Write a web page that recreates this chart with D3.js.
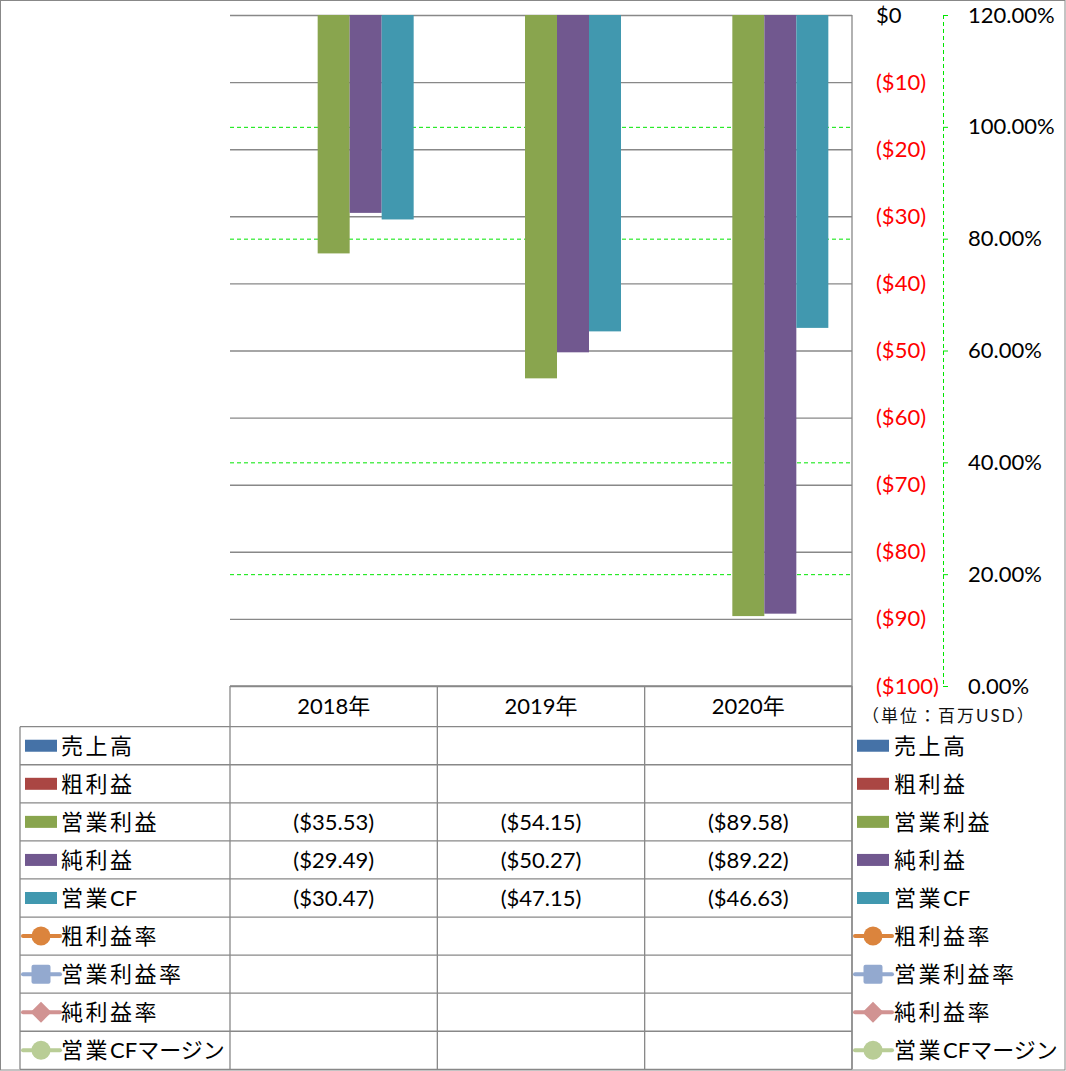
<!DOCTYPE html>
<html><head><meta charset="utf-8">
<script src="https://cdn.jsdelivr.net/npm/d3@7"></script>
<style>
html,body{margin:0;padding:0;background:#fff;}
text{font-family:Lato,"Noto Sans CJK JP",sans-serif;}
</style></head>
<body>
<script>
// ---- data ----
const years = ["2018年", "2019年", "2020年"];
const barSeries = ["売上高", "粗利益", "営業利益", "純利益", "営業CF"];
const revenue = [null, null, null];
const grossProfit = [null, null, null];
const operatingIncome = [-35.53, -54.15, -89.58];
const netIncome = [-29.49, -50.27, -89.22];
const operatingCF = [-30.47, -47.15, -46.63];
const lineSeries = ["粗利益率", "営業利益率", "純利益率", "営業CFマージン"];
const grossMargin = [null, null, null];
const operatingMargin = [null, null, null];
const netMargin = [null, null, null];
const cfMargin = [null, null, null];
const yTicks = [0, -10, -20, -30, -40, -50, -60, -70, -80, -90, -100];
const y2Ticks = [0, 0.2, 0.4, 0.6, 0.8, 1.0, 1.2];
const unitLabel = "（単位：百万USD）";

const barValues = [revenue, grossProfit, operatingIncome, netIncome, operatingCF];
const lineValues = [grossMargin, operatingMargin, netMargin, cfMargin];
const barColors = ["#4572A7", "#AA4643", "#89A54E", "#71588F", "#4198AF"];
const lineColors = ["#DB843D", "#93A9CF", "#D19392", "#B9CD96"];
const markerShapes = ["circle", "square", "diamond", "circle"];

// ---- layout ----
const W = 1066, H = 1071;
const pL = 230, pR = 852, pT = 15, pB = 686;
const tableBottom = 1069.3, headerBottom = 726.7;
const rowH = (tableBottom - headerBottom) / 9;
const gray = "#888";
const green = "#00e600";

const svg = d3.select("body").append("svg").attr("width", W).attr("height", H);
svg.append("rect").attr("x", 0.5).attr("y", 0.5).attr("width", W - 1.5).attr("height", H - 1.5)
  .attr("fill", "#fff").attr("stroke", gray);

const y = d3.scaleLinear().domain([-100, 0]).range([pB, pT]);
const y2 = d3.scaleLinear().domain([0, 1.2]).range([pB, pT]);
const x0 = d3.scaleBand().domain(years).range([pL, pR]).padding(0);
const x1 = d3.scaleBand().domain(barSeries)
  .range([x0.bandwidth() / 2 - 80, x0.bandwidth() / 2 + 80]);

// green dashed secondary gridlines (those under a primary gridline are hidden by it)
const primaryYs = yTicks.map(v => y(v));
const greenLines = y2Ticks.filter(d => d > 0 && d < 1.2)
  .filter(d => !primaryYs.some(py => Math.abs(py - y2(d)) < 1));
svg.append("g").selectAll("line").data(greenLines).join("line")
  .attr("x1", pL).attr("x2", pR).attr("y1", d => y2(d) + 0.5).attr("y2", d => y2(d) + 0.5)
  .attr("stroke", green).attr("stroke-width", 1).attr("stroke-dasharray", "4,3");

// primary axis with gridlines (labels right of plot)
const fmtMoney = v => v === 0 ? "$0" : `($${-v})`;
const gY = svg.append("g").attr("transform", `translate(${pR},0)`)
  .call(d3.axisRight(y).tickValues(yTicks).tickSize(-(pR - pL)).tickPadding(24).tickFormat(fmtMoney));
gY.select(".domain").remove();
gY.selectAll(".tick line").attr("stroke", gray).attr("stroke-width", 1.4);
gY.selectAll(".tick text").attr("font-size", 22).attr("fill", d => d < 0 ? "#ff0000" : "#000");

// bars
const bars = [];
years.forEach((yr, i) => barSeries.forEach((s, j) => {
  const v = barValues[j][i];
  if (v != null) bars.push({ yr, s, v, c: barColors[j] });
}));
svg.append("g").selectAll("rect").data(bars).join("rect")
  .attr("x", d => x0(d.yr) + x1(d.s)).attr("width", x1.bandwidth())
  .attr("y", d => y(0)).attr("height", d => y(d.v) - y(0))
  .attr("fill", d => d.c);

// right axis line at pR (goes down through table)
svg.append("line").attr("x1", pR).attr("x2", pR).attr("y1", pT).attr("y2", tableBottom)
  .attr("stroke", gray).attr("stroke-width", 1.3);

// secondary axis
const gY2 = svg.append("g").attr("transform", "translate(943,0)")
  .call(d3.axisRight(y2).tickValues(y2Ticks).tickSize(5).tickPadding(20).tickFormat(d3.format(".2%")));
gY2.select(".domain").attr("stroke", green).attr("stroke-dasharray", "4,3").attr("d", `M0.5,${pT}V${pB}`);
gY2.selectAll(".tick line").attr("stroke", green);
gY2.selectAll(".tick text").attr("font-size", 22).attr("fill", "#000");

// unit label
svg.append("text").attr("x", 862).attr("y", 716).attr("dy", "0.35em")
  .attr("font-size", 17).attr("letter-spacing", 2).attr("fill", "#111")
  .attr("font-family", "'Noto Sans CJK JP'").text(unitLabel);

// ---- data table ----
const tg = svg.append("g");
const colEdges = [pL, ...years.map(yr => x0(yr) + x0.bandwidth())];
tg.append("g").selectAll("line").data(colEdges).join("line")
  .attr("x1", d => d).attr("x2", d => d).attr("y1", pB).attr("y2", tableBottom)
  .attr("stroke", gray).attr("stroke-width", 1.3);
tg.append("line").attr("x1", 20).attr("x2", 20).attr("y1", headerBottom).attr("y2", tableBottom)
  .attr("stroke", gray).attr("stroke-width", 1.3);
const rowLines = d3.range(10).map(i => headerBottom + i * rowH);
tg.append("g").selectAll("line").data(rowLines).join("line")
  .attr("x1", 20).attr("x2", pR).attr("y1", d => d).attr("y2", d => d)
  .attr("stroke", gray).attr("stroke-width", 1.3);
tg.append("line").attr("x1", pL).attr("x2", pR).attr("y1", pB).attr("y2", pB)
  .attr("stroke", gray).attr("stroke-width", 1.3);
tg.append("g").selectAll("text").data(years).join("text")
  .attr("x", d => x0(d) + x0.bandwidth() / 2).attr("y", (pB + headerBottom) / 2).attr("dy", "0.35em")
  .attr("text-anchor", "middle").attr("font-size", 22).text(d => d);

const allSeries = [...barSeries, ...lineSeries];
const allValues = [...barValues, ...lineValues];
const cells = [];
allSeries.forEach((s, r) => years.forEach((yr, i) => {
  const v = allValues[r][i];
  if (v != null) cells.push({ r, yr, v });
}));
const fmtCell = v => v < 0 ? `($${d3.format(".2f")(-v)})` : `$${d3.format(".2f")(v)}`;
tg.append("g").selectAll("text").data(cells).join("text")
  .attr("x", d => x0(d.yr) + x0.bandwidth() / 2).attr("y", d => headerBottom + (d.r + 0.5) * rowH)
  .attr("dy", "0.35em").attr("text-anchor", "middle").attr("font-size", 22).text(d => fmtCell(d.v));

// split label into runs: kanji get wider spacing
function runs(s) {
  const out = [];
  for (const ch of s) {
    const k = /[\u4e00-\u9fff]/.test(ch);
    if (out.length && out[out.length - 1].k === k) out[out.length - 1].t += ch;
    else out.push({ k, t: ch });
  }
  return out;
}

function legend(sx, tx) {
  const g = svg.append("g");
  allSeries.forEach((s, r) => {
    const cy = headerBottom + (r + 0.5) * rowH;
    if (r < barSeries.length) {
      g.append("rect").attr("x", sx).attr("y", cy - 6).attr("width", 32).attr("height", 12)
        .attr("fill", barColors[r]);
    } else {
      const k = r - barSeries.length;
      const c = lineColors[k];
      const cx = sx + 16;
      g.append("line").attr("x1", sx - 2).attr("x2", sx + 35).attr("y1", cy).attr("y2", cy)
        .attr("stroke", c).attr("stroke-width", 4).attr("stroke-linecap", "round");
      const shp = markerShapes[k];
      if (shp === "circle") g.append("circle").attr("cx", cx).attr("cy", cy).attr("r", 9.5).attr("fill", c);
      else if (shp === "square") g.append("rect").attr("x", cx - 9.5).attr("y", cy - 9.5).attr("width", 19).attr("height", 19).attr("rx", 2).attr("fill", c);
      else g.append("path").attr("d", `M${cx},${cy - 10.5}L${cx + 10.5},${cy}L${cx},${cy + 10.5}L${cx - 10.5},${cy}Z`).attr("fill", c);
    }
    const t = g.append("text").attr("x", tx).attr("y", cy).attr("dy", "0.36em").attr("font-size", 22);
    runs(s).forEach(rn => t.append("tspan").attr("letter-spacing", rn.k ? 2.5 : 0).text(rn.t));
  });
}
legend(25, 61);
legend(857, 894);
</script>
</body></html>
